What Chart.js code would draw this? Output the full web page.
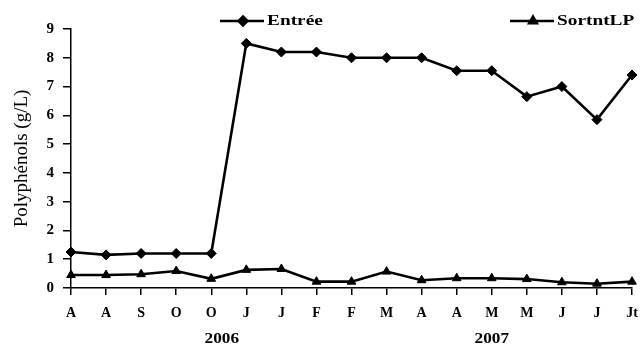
<!DOCTYPE html>
<html>
<head>
<meta charset="utf-8">
<script src="https://cdn.jsdelivr.net/npm/chart.js@4/dist/chart.umd.min.js"></script>
<style>
  html, body { margin: 0; padding: 0; background: #fff; }
  #wrap { width: 643px; height: 349px; position: relative; }
</style>
</head>
<body>
<div id="wrap"><canvas id="c" width="643" height="349"></canvas></div>
<script>
// Monthly samples, Aug 2006 – Jul 2007
const months = ['A', 'A', 'S', 'O', 'O', 'J', 'J', 'F', 'F', 'M', 'A', 'A', 'M', 'M', 'J', 'J', 'Jt'];
const entree = [1.25, 1.15, 1.2, 1.2, 1.2, 8.5, 8.2, 8.2, 8.0, 8.0, 8.0, 7.55, 7.55, 6.65, 7.0, 5.85, 7.4];
const sortieLP = [0.45, 0.45, 0.48, 0.59, 0.32, 0.63, 0.66, 0.22, 0.22, 0.57, 0.27, 0.34, 0.34, 0.31, 0.2, 0.15, 0.22];
const yearLabels = ['2006', '2007'];
const yearPositions = [4.3, 12.0]; // category index under which each year is centred
const yTicks = [0, 1, 2, 3, 4, 5, 6, 7, 8, 9];

const SERIF = '"Liberation Serif", "Times New Roman", serif';

// Legend and year captions drawn directly on the canvas
const extras = {
  id: 'extras',
  afterDraw(chart) {
    const ctx = chart.ctx;
    const xs = chart.scales.x;
    ctx.save();
    ctx.fillStyle = '#000';
    ctx.font = 'bold 15px ' + SERIF;
    ctx.textAlign = 'center';
    ctx.textBaseline = 'middle';
    yearLabels.forEach((t, i) => {
      ctx.save();
      ctx.translate(xs.getPixelForValue(yearPositions[i]), 339);
      ctx.scale(1.15, 1);
      ctx.fillText(t, 0, 0);
      ctx.restore();
    });

    const items = [
      { ds: chart.data.datasets[0], x: 220 },
      { ds: chart.data.datasets[1], x: 510 }
    ];
    const y = 21;
    items.forEach(it => {
      ctx.strokeStyle = '#000';
      ctx.lineWidth = 2.5;
      ctx.beginPath();
      ctx.moveTo(it.x, y);
      ctx.lineTo(it.x + 44, y);
      ctx.stroke();
      Chart.helpers.drawPoint(ctx, {
        pointStyle: it.ds.pointStyle, radius: 4.5, rotation: 0, borderWidth: 1
      }, it.x + 23, y);
      ctx.fillStyle = '#000';
      ctx.font = 'bold 14px ' + SERIF;
      ctx.textAlign = 'left';
      ctx.save();
      ctx.translate(it.x + 47, y);
      ctx.scale(1.38, 1);
      ctx.fillText(it.ds.label, 0, 0);
      ctx.restore();
    });
    ctx.restore();
  }
};

new Chart(document.getElementById('c'), {
  type: 'line',
  data: {
    labels: months,
    datasets: [
      {
        label: 'Entrée',
        data: entree,
        borderColor: '#000',
        backgroundColor: '#000',
        borderWidth: 2.6,
        pointStyle: 'rectRot',
        pointRadius: 5,
        pointBorderWidth: 1,
        tension: 0
      },
      {
        label: 'SortntLP',
        data: sortieLP,
        borderColor: '#000',
        backgroundColor: '#000',
        borderWidth: 2.6,
        pointStyle: 'triangle',
        pointRadius: 5,
        pointBorderWidth: 1,
        tension: 0
      }
    ]
  },
  options: {
    responsive: false,
    animation: false,
    layout: { padding: { top: 29, right: 11, bottom: 0, left: 0 } },
    plugins: {
      legend: { display: false },
      tooltip: { enabled: false }
    },
    scales: {
      x: {
        offset: false,
        grid: { display: true, drawOnChartArea: false, drawTicks: true, tickLength: 7, color: '#000', lineWidth: 1.5 },
        border: { display: true, color: '#000', width: 1.5 },
        ticks: {
          color: '#000', padding: 10, maxRotation: 0, autoSkip: false,
          font: { family: SERIF, size: 14, weight: 'bold' }
        },
        afterFit(s) { s.height = 61; s.paddingLeft = 0; s.paddingRight = 0; }
      },
      y: {
        min: 0, max: 9,
        afterBuildTicks(s) { s.ticks = yTicks.map(v => ({ value: v })); },
        grid: { display: true, drawOnChartArea: false, drawTicks: true, tickLength: 8, color: '#000', lineWidth: 1.5 },
        border: { display: true, color: '#000', width: 1.5 },
        ticks: {
          color: '#000', padding: 9,
          font: { family: SERIF, size: 15, weight: 'bold' }
        },
        title: {
          display: true, text: 'Polyphénols (g/L)', color: '#000',
          font: { family: SERIF, size: 19, weight: 'normal' },
          padding: { top: 11, bottom: 0 }
        },
        afterFit(s) { s.width = 71; s.paddingTop = 0; s.paddingBottom = 0; }
      }
    }
  },
  plugins: [extras]
});
</script>
</body>
</html>
